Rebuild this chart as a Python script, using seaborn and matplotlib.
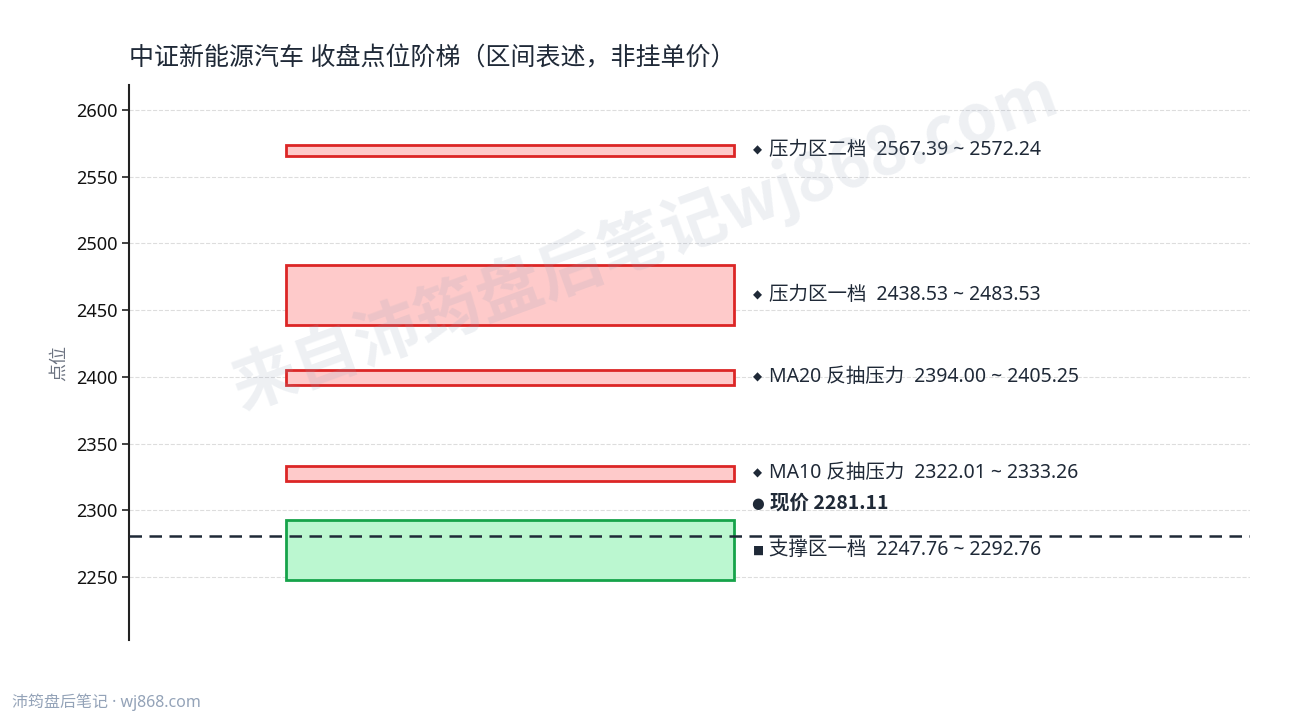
import matplotlib
matplotlib.use("Agg")
import matplotlib.pyplot as plt
import seaborn as sns

# 区间数据
zone_names = ["压力区二档", "压力区一档", "MA20 反抽压力", "MA10 反抽压力", "支撑区一档"]
zone_low = [2567.39, 2438.53, 2394.00, 2322.01, 2247.76]
zone_high = [2572.24, 2483.53, 2405.25, 2333.26, 2292.76]
zone_kind = ["压力", "压力", "压力", "压力", "支撑"]
price_now = 2281.11

sns.set_theme(style="white")
plt.rcParams['font.family'] = ['Noto Sans', 'Noto Sans CJK SC', 'DejaVu Sans']
plt.rcParams['axes.unicode_minus'] = False
cjk = ['Noto Sans CJK SC', 'DejaVu Sans']

fig = plt.figure(figsize=(12.9, 7.2), dpi=100)
ax = fig.add_axes([0.1, 0.111, 0.869, 0.771])

styles = {"压力": ("#fecaca", "#dc2626", "◆"), "支撑": ("#bbf7d0", "#16a34a", "■")}
txt_col = "#1f2937"

for name, lo, hi, kind in zip(zone_names, zone_low, zone_high, zone_kind):
    fc, ec, mk = styles[kind]
    mid = (lo + hi) / 2
    h = max(hi - lo, 8)  # 太窄的区间画成最小高度
    ax.bar(0.34, h, bottom=mid - h / 2, width=0.4, color=fc, edgecolor=ec,
           linewidth=2, zorder=3)
    ax.text(0.557, mid, mk, va="center", ha="left", fontsize=8.5,
            color=txt_col, zorder=4, family=['DejaVu Sans'])
    ax.text(0.571, mid, f"{name}  {lo:.2f} ~ {hi:.2f}",
            va="center", ha="left", fontsize=14, color=txt_col, zorder=4)

ax.axhline(price_now, color=txt_col, linestyle=(0, (5, 3)), linewidth=1.8, zorder=4)
ax.text(0.555, price_now + 24, "●", va="center", ha="left", fontsize=10.5,
        color=txt_col, zorder=4, family=['DejaVu Sans'])
ax.text(0.572, price_now + 24, f"现价 {price_now:.2f}", va="center", ha="left",
        fontsize=14, fontweight="bold", color=txt_col, zorder=4, family=cjk)

ax.set_xlim(0, 1)
ax.set_ylim(2202.8, 2618.7)
ax.set_yticks(range(2250, 2601, 50))
ax.set_xticks([])
ax.grid(axis="y", linestyle="--", color="#dddddd", linewidth=0.8)
ax.set_axisbelow(True)

for s in ["top", "right", "bottom"]:
    ax.spines[s].set_visible(False)
ax.spines["left"].set_color("#222222")
ax.spines["left"].set_linewidth(1.5)
ax.tick_params(axis="y", left=True, length=5, width=1.2, color="#222222",
               labelsize=13, labelcolor="#111111")

ax.set_ylabel("点位", fontsize=13, color="#6b7280", labelpad=6)
ax.set_title("中证新能源汽车 收盘点位阶梯（区间表述，非挂单价）", loc="left",
             fontsize=18, color=txt_col, pad=14)

# 水印
fig.text(0.5, 0.665, "来自沛筠盘后笔记wj868.com", rotation=20, ha="center", va="center",
         fontsize=47, fontweight="bold", color="#94a3b8", alpha=0.16, zorder=10,
         family=cjk)
fig.text(0.009, 0.018, "沛筠盘后笔记 · wj868.com", fontsize=11.5, color="#94a3b8")

fig.savefig("out.png", dpi=100)
